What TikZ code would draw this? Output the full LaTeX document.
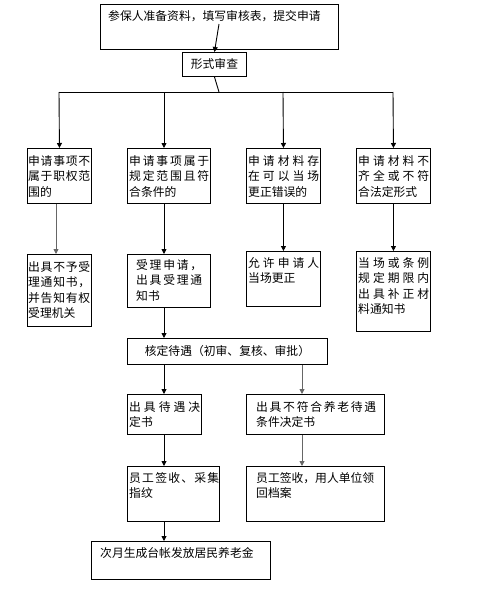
\documentclass[tikz,border=0pt]{standalone}
\usepackage{fontspec}
\setmainfont{Noto Sans CJK SC}
\usetikzlibrary{arrows.meta}
\makeatletter
\newcommand\spr[2]{\makebox[#1pt][s]{\spr@a#2\relax}}
\def\spr@a#1{#1\spr@b}
\def\spr@b#1{\ifx\relax#1\else\hfill#1\expandafter\spr@b\fi}
\makeatother
\tikzset{
  box/.style={draw, line width=0.9pt, inner sep=0pt, anchor=north west},
  txt/.style={anchor=north west, inner sep=0pt, align=left, font=\fontsize{11.8}{15.5}\selectfont},
  ctxt/.style={font=\fontsize{11.8}{15.5}\selectfont},
  ln/.style={line width=0.9pt, draw=black},
  arr/.style={ln, -{Triangle[width=5pt,length=5pt]}},
  garr/.style={arr, draw=black!60, fill=black!60}
}
\begin{document}
\begin{tikzpicture}[x=1pt,y=-1pt]
\useasboundingbox (0,0) rectangle (478,608);
% boxes
\node[box, minimum width=238pt, minimum height=45pt] (s) at (100,4) {};
\node[box, minimum width=64pt, minimum height=24pt, ctxt] (f) at (182,52) {形式审查};
\node[box, minimum width=64pt, minimum height=55pt] (a) at (27,148) {};
\node[box, minimum width=83pt, minimum height=55pt] (b) at (127,148) {};
\node[box, minimum width=74pt, minimum height=55pt] (c) at (246,148) {};
\node[box, minimum width=74pt, minimum height=55pt] (d) at (356,148) {};
\node[box, minimum width=64pt, minimum height=72pt] (a2) at (27,254) {};
\node[box, minimum width=83pt, minimum height=53pt] (b2) at (127,254) {};
\node[box, minimum width=74pt, minimum height=55pt] (c2) at (246,251) {};
\node[box, minimum width=74pt, minimum height=80pt] (d2) at (356,251) {};
\node[box, minimum width=200pt, minimum height=26pt, ctxt] (k) at (127,338) {核定待遇（初审、复核、审批）};
\node[box, minimum width=74pt, minimum height=40pt] (e) at (127,394) {};
\node[box, minimum width=138pt, minimum height=40pt] (g) at (246,394) {};
\node[box, minimum width=92pt, minimum height=55pt] (e2) at (127,466) {};
\node[box, minimum width=138pt, minimum height=55pt] (g2) at (246,466) {};
\node[box, minimum width=179pt, minimum height=38pt] (z) at (91,541) {};
% texts
\node[txt] (ts) at (108,10) {参保人准备资料，填写审核表，提交申请};
\node[txt] (ta) at (28,155) {\spr{62}{申请事项不}\\\spr{62}{属于职权范}\\围的};
\node[txt] (tb) at (129,155) {\spr{80}{申请事项属于}\\\spr{80}{规定范围且符}\\合条件的};
\node[txt] (tc) at (248,155) {\spr{71}{申请材料存}\\\spr{71}{在可以当场}\\更正错误的};
\node[txt] (td) at (358,155) {\spr{71}{申请材料不}\\\spr{71}{齐全或不符}\\合法定形式};
\node[txt] (ta2) at (28,261) {\spr{62}{出具不予受}\\\spr{62}{理通知书，}\\\spr{62}{并告知有权}\\受理机关};
\node[txt] (tb2) at (136,259) {\spr{66}{受理申请，}\\\spr{66}{出具受理通}\\知书};
\node[txt] (tc2) at (248,257) {\spr{71}{允许申请人}\\当场更正};
\node[txt] (td2) at (358,257) {\spr{71}{当场或条例}\\\spr{71}{规定期限内}\\\spr{71}{出具补正材}\\料通知书};
\node[txt] (te) at (129,401) {\spr{71}{出具待遇决}\\定书};
\node[txt] (tg) at (256,401) {\spr{120}{出具不符合养老待遇}\\条件决定书};
\node[txt] (te2) at (129,472) {\spr{90}{员工签收、采集}\\指纹};
\node[txt] (tg2) at (256,472) {员工签收，用人单位领\\回档案};
\node[txt] (tz) at (100,547) {次月生成台帐发放居民养老金};
% connector points
\coordinate (s0) at (219,24);
\coordinate (j) at (219,92);
\coordinate (hl) at (59,92);
\coordinate (hb) at (164,92);
\coordinate (hc) at (283,92);
\coordinate (hr) at (393,92);
\coordinate (xa) at (56,0);
\coordinate (xf) at (302,0);
% connectors
\draw[arr] (s0) -- (f.north);
\draw[ln] (f.south) -- (j);
\draw[ln] (hl) -- (hr);
\draw[arr] (hl) -- (a.north);
\draw[arr] (hb) -- (hb |- b.north);
\draw[arr] (hc) -- (c.north);
\draw[arr] (hr) -- (d.north);
\draw[garr] (a.south -| xa) -- (a2.north -| xa);
\draw[arr] (b.south -| hb) -- (b2.north -| hb);
\draw[arr] (c.south) -- (c2.north);
\draw[arr] (d.south) -- (d2.north);
\draw[arr] (b2.south -| hb) -- (k.north -| hb);
\draw[arr] (k.south -| hb) -- (e.north -| hb);
\draw[garr] (k.south -| xf) -- (g.north -| xf);
\draw[arr] (e.south -| hb) -- (e2.north -| hb);
\draw[garr] (g.south -| xf) -- (g2.north -| xf);
\draw[arr] (e2.south -| hb) -- (z.north -| hb);
\end{tikzpicture}
\end{document}
